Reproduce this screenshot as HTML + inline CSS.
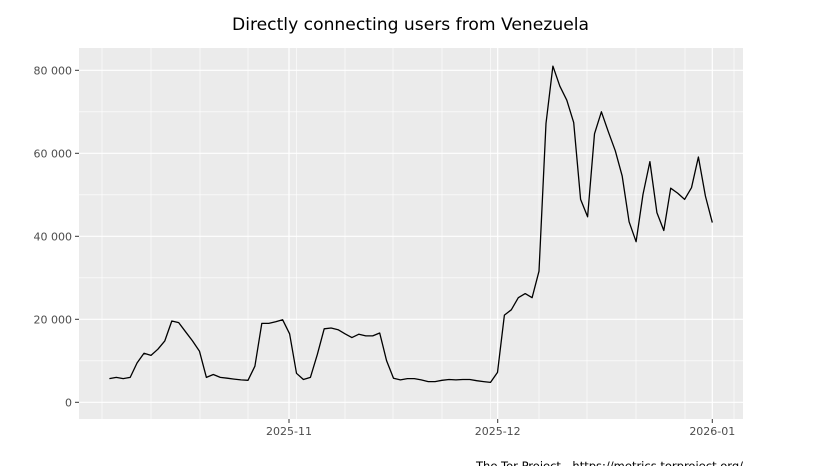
<!DOCTYPE html>
<html><head><meta charset="utf-8"><style>
body{margin:0;background:#fff;width:827px;height:466px;overflow:hidden}
svg text{font-family:"DejaVu Sans","Liberation Sans",sans-serif}
</style></head><body>
<svg id="s" width="827" height="466" viewBox="0 0 827 466" xmlns="http://www.w3.org/2000/svg">
<text x="410.5" y="30" font-size="17" text-anchor="middle" fill="#000" textLength="357" lengthAdjust="spacingAndGlyphs">Directly connecting users from Venezuela</text>
<rect x="79" y="48" width="664" height="371" fill="#ebebeb"/>
<g id="grid"></g>
<polyline id="line" fill="none" stroke="#000" stroke-width="1.3" stroke-linejoin="round"/>
<g fill="#4d4d4d" font-size="11" id="labels"></g>
<text x="743" y="470" font-size="11.3" text-anchor="end" fill="#000" textLength="267" lengthAdjust="spacingAndGlyphs">The Tor Project - https://metrics.torproject.org/</text>
</svg>
<script>
var ns="http://www.w3.org/2000/svg";
function el(t,a,p){var e=document.createElementNS(ns,t);for(var k in a)e.setAttribute(k,a[k]);(p||document.getElementById('s')).appendChild(e);return e;}
var g=document.getElementById('grid'),L=document.getElementById('labels');
function Y(v){return 402.3-v*4.15;}
for(var v=10;v<=70;v+=20)el('line',{x1:79,x2:743,y1:Y(v),y2:Y(v),stroke:'#fff','stroke-width':0.6},g);
var wk=[102,151,200,248,296.7,345,393,442,490.7,539,587,636,685,734];
wk.forEach(function(x){el('line',{x1:x,x2:x,y1:48,y2:419,stroke:'#fff','stroke-width':0.6},g);});
for(var v=0;v<=80;v+=20){el('line',{x1:79,x2:743,y1:Y(v),y2:Y(v),stroke:'#fff','stroke-width':1.2},g);
 el('line',{x1:75,x2:79,y1:Y(v),y2:Y(v),stroke:'#333','stroke-width':1},L);
 var t=el('text',{x:72,y:Y(v)+4,'text-anchor':'end'},L);t.textContent=v==0?'0':v+' 000';}
[[289,'2025-11'],[497.7,'2025-12'],[712.3,'2026-01']].forEach(function(m){
 el('line',{x1:m[0],x2:m[0],y1:48,y2:419,stroke:'#fff','stroke-width':1.2},g);
 el('line',{x1:m[0],x2:m[0],y1:419,y2:423,stroke:'#333','stroke-width':1},L);
 var t=el('text',{x:m[0],y:435,'text-anchor':'middle'},L);t.textContent=m[1];});
var d=[5.7,6.0,5.7,6.0,9.5,11.8,11.3,12.8,14.8,19.6,19.2,17.0,14.8,12.3,6.0,6.7,6.0,5.8,5.6,5.4,5.3,8.7,19.0,19.0,19.4,19.9,
16.5,7.0,5.5,6.0,11.5,17.7,17.9,17.5,16.5,15.6,16.4,16.0,16.0,16.7,10.0,5.8,5.4,5.7,5.7,5.4,5.0,5.0,5.3,5.5,5.4,5.5,5.5,5.2,5.0,4.8,
7.2,21.0,22.3,25.2,26.2,25.2,31.6,67.2,81.0,76.2,72.8,67.4,48.9,44.7,64.7,70.0,65.2,60.6,54.5,43.5,38.7,50.1,58.0,45.7,41.4,51.6,50.4,48.9,51.7,59.1,49.7,43.3];
var x0=712.3-(d.length-1)*6.93,pts=d.map(function(v,i){return (x0+i*6.93).toFixed(1)+','+Y(v).toFixed(1);});
document.getElementById('line').setAttribute('points',pts.join(' '));
</script>
</body></html>
